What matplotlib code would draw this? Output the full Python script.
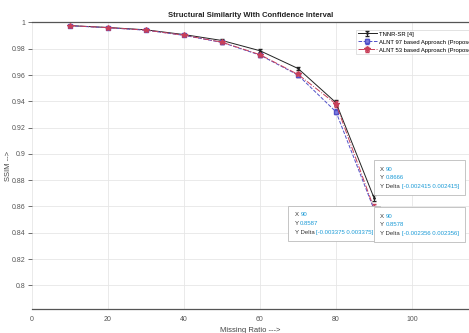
import matplotlib
matplotlib.use("Agg")
import matplotlib.pyplot as plt
from matplotlib.offsetbox import TextArea, HPacker, VPacker, AnnotationBbox

plt.rcParams['font.family'] = ['Liberation Sans', 'DejaVu Sans']

missing_ratio = [10, 20, 30, 40, 50, 60, 70, 80, 90]
tnnr = [0.9976, 0.9962, 0.9944, 0.9908, 0.9863, 0.9785, 0.9650, 0.9390, 0.8666]
alnt97 = [0.9975, 0.9960, 0.9941, 0.9902, 0.9848, 0.9752, 0.9600, 0.9320, 0.8578]
alnt53 = [0.9976, 0.9961, 0.9942, 0.9903, 0.9850, 0.9755, 0.9605, 0.9380, 0.8587]
tnnr_err = [0.0004, 0.0005, 0.0006, 0.0007, 0.0009, 0.0011, 0.0014, 0.0019, 0.002415]
alnt97_err = [0.0004, 0.0005, 0.0006, 0.0007, 0.0009, 0.0011, 0.0014, 0.0019, 0.002356]
alnt53_err = [0.0005, 0.0006, 0.0007, 0.0009, 0.0011, 0.0014, 0.0018, 0.0024, 0.003375]
labels = ["TNNR-SR [4]", "ALNT 97 based Approach (Proposed)", "ALNT 53 based Approach (Proposed)"]
x_ticks = [0, 20, 40, 60, 80, 100]
y_ticks = [0.8, 0.82, 0.84, 0.86, 0.88, 0.9, 0.92, 0.94, 0.96, 0.98, 1.0]
y_ticklabels = ["0.8", "0.82", "0.84", "0.86", "0.88", "0.9", "0.92", "0.94", "0.96", "0.98", "1"]

fig = plt.figure(figsize=(4.69, 3.33), dpi=100)
ax = fig.add_axes([0.0682, 0.072, 0.9318, 0.8605])

ax.errorbar(missing_ratio, tnnr, yerr=tnnr_err, color='#222222', lw=0.7, ls='-',
            marker='.', ms=2, capsize=1.5, elinewidth=0.7, label=labels[0], zorder=3)
ax.errorbar(missing_ratio, alnt97, yerr=alnt97_err, color='#5050c8', lw=0.7, ls='--',
            marker='s', ms=2.5, mfc='#8080e0', capsize=1.5, elinewidth=0.7, label=labels[1], zorder=3)
ax.errorbar(missing_ratio, alnt53, yerr=alnt53_err, color='#c8405a', lw=0.7, ls='-.',
            marker='*', ms=4, capsize=1.5, elinewidth=0.7, label=labels[2], zorder=3)

ax.set_xlim(0, 115)
ax.set_ylim(0.782, 1.0)
ax.set_xticks(x_ticks)
ax.set_yticks(y_ticks)
ax.set_yticklabels(y_ticklabels)
ax.grid(True, color='#e6e6e6', lw=0.6)
ax.set_axisbelow(True)
for s in ['left', 'right']:
    ax.spines[s].set_visible(False)
for s in ['top', 'bottom']:
    ax.spines[s].set_color('#555555')
    ax.spines[s].set_linewidth(0.9)
ax.tick_params(axis='both', labelsize=5, colors='#555555', length=3, width=0.6)
ax.tick_params(axis='y', pad=1.5)
ax.tick_params(axis='x', length=0, pad=5)

ax.set_title("Structural Similarity With Confidence Interval", fontsize=5.5,
             fontweight='bold', pad=4, color='#222222')
ax.set_xlabel("Missing Ratio --->", fontsize=5.5, color='#444444', labelpad=3)
ax.set_ylabel("SSIM -->", fontsize=5.5, color='#444444')
ax.yaxis.set_label_coords(-0.046, 0.5)

leg = ax.legend(loc='upper left', bbox_to_anchor=(0.735, 0.985), fontsize=4.2,
                frameon=True, fancybox=False, edgecolor='#cccccc', handlelength=3.2,
                borderpad=0.3, labelspacing=0.5, handletextpad=0.4)
leg.get_frame().set_linewidth(0.5)

blue = '#1a9ad6'
def tip(xv, yv, err, align, off):
    rows = []
    for lab, val in [("X ", f"{xv:g}"), ("Y ", f"{yv:.4f}"),
                     ("Y Delta ", f"[-{err:.6f} {err:.6f}]")]:
        rows.append(HPacker(children=[TextArea(lab, textprops=dict(fontsize=4.3, color='#333333')),
                                      TextArea(val, textprops=dict(fontsize=4.3, color=blue))],
                            pad=0, sep=0))
    box = VPacker(children=rows, pad=0, sep=2.6, align='left')
    ab = AnnotationBbox(box, (xv, yv), xybox=off, xycoords='data', boxcoords='offset points',
                        box_alignment=align, pad=0.45, frameon=True, zorder=5,
                        bboxprops=dict(edgecolor='#bbbbbb', facecolor='white', lw=0.6))
    ax.add_artist(ab)

tip(missing_ratio[-1], tnnr[-1], tnnr_err[-1], (0, 0), (4.5, 6.5))
tip(missing_ratio[-1], alnt53[-1], alnt53_err[-1], (1, 1), (-0.5, -3))
tip(missing_ratio[-1], alnt97[-1], alnt97_err[-1], (0, 1), (4.5, -3))

fig.savefig("out.png", dpi=100)
